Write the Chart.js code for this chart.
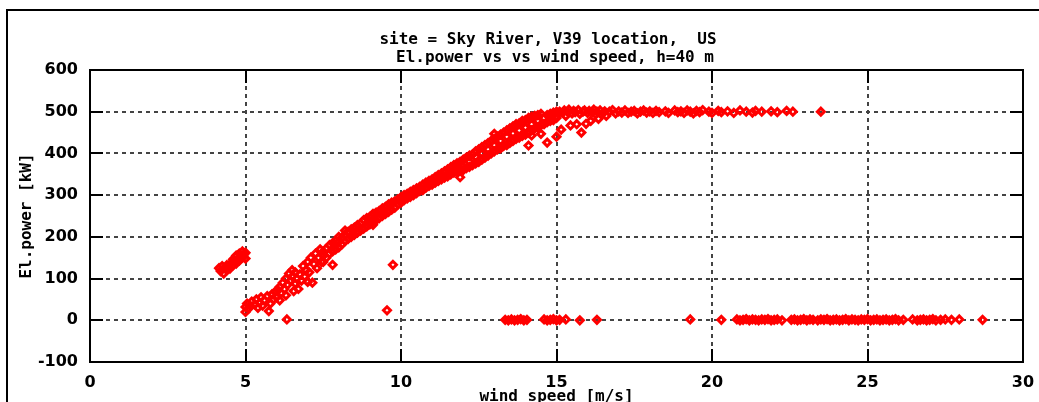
<!DOCTYPE html>
<html>
<head>
<meta charset="utf-8">
<script src="https://cdn.jsdelivr.net/npm/chart.js@4/dist/chart.umd.min.js"></script>
<style>
  html, body { margin: 0; padding: 0; background: #fff; }
  canvas { display: block; }
</style>
</head>
<body>
<canvas id="powerCurve" width="1039" height="402"></canvas>
<script>
// measured 10-min samples, [wind speed m/s, el. power kW]
var startupPts = [
  [4.15,125],[4.2,118],[4.25,130],[4.3,112],[4.35,125],[4.4,120],[4.4,132],[4.45,128],
  [4.5,124],[4.55,138],[4.6,132],[4.6,146],[4.65,140],[4.7,155],[4.7,136],[4.75,148],
  [4.8,160],[4.8,143],[4.85,152],[4.9,165],[4.9,150],[4.95,158],[5.0,162],[5.0,148]
];

var lowRampPts = [
  [5.0,20],[5.0,32],[5.05,40],[5.1,28],[5.15,35],[5.2,45],[5.3,38],[5.35,50],[5.4,30],
  [5.45,42],[5.5,55],[5.55,35],[5.6,48],[5.7,58],[5.75,22],[5.8,40],[5.85,62],[5.9,50],
  [5.95,68],[6.0,55],[6.05,72],[6.1,48],[6.1,80],[6.15,65],[6.2,90],[6.25,75],[6.3,100],
  [6.3,60],[6.35,85],[6.4,112],[6.45,95],[6.5,105],[6.5,120],[6.55,70],[6.6,88],[6.6,115],
  [6.65,100],[6.7,75],[6.75,110],[6.8,95],[6.85,130],[6.9,105],[6.95,120],[7.0,92],
  [7.0,140],[7.05,115],[7.1,150],[7.15,90],[7.2,135],[7.25,160],[7.3,125],[7.35,150],
  [7.4,170],[7.45,140]
];

var rampPts = [
  [7.5,140],[7.5,155],[7.5,165],[7.6,150],[7.6,172],[7.7,160],[7.7,180],[7.8,133],[7.8,165],
  [7.8,185],[7.9,170],[7.9,190],[8.0,175],[8.0,188],[8.0,200],[8.1,182],[8.1,198],[8.2,190],
  [8.2,205],[8.2,215],[8.3,195],[8.3,212],[8.4,200],[8.4,218],[8.5,205],[8.5,222],[8.6,210],
  [8.6,228],[8.7,215],[8.7,232],[8.8,220],[8.8,240],[8.9,225],[8.9,245],[9.0,230],[9.0,248],
  [9.1,229],[9.1,238],[9.1,255],[9.2,240],[9.2,258],[9.3,245],[9.3,262],[9.4,250],[9.4,268],
  [9.5,255],[9.5,272],[9.6,260],[9.6,278],[9.7,265],[9.7,282],[9.8,270],[9.8,285],[9.9,278],
  [9.9,290],[10.0,282],[10.0,295],[10.1,288],[10.1,300],[10.2,292],[10.2,303],[10.3,296],
  [10.3,308],[10.4,300],[10.4,312],[10.5,305],[10.5,316],[10.6,310],[10.6,320],[10.7,312],
  [10.7,325],[10.8,318],[10.8,330],[10.9,322],[10.9,334],[11.0,325],[11.0,338],[11.1,330],
  [11.1,343],[11.2,334],[11.2,348],[11.3,338],[11.3,352],[11.4,342],[11.4,357],[11.5,345],
  [11.5,362],[11.6,350],[11.6,367],[11.7,354],[11.7,372],[11.8,358],[11.8,376],[11.9,343],
  [11.9,362],[11.9,380],[12.0,360],[12.0,368],[12.0,385],[12.1,365],[12.1,390],[12.2,368],
  [12.2,380],[12.2,395],[12.3,372],[12.3,398],[12.4,376],[12.4,392],[12.4,405],[12.5,380],
  [12.5,410],[12.6,385],[12.6,400],[12.6,415],[12.7,390],[12.7,420],[12.8,395],[12.8,410],
  [12.8,425],[12.9,400],[12.9,430],[13.0,405],[13.0,420],[13.0,435],[13.0,447],[13.1,410],
  [13.1,440],[13.2,412],[13.2,430],[13.2,445],[13.3,418],[13.3,450],[13.4,420],[13.4,440],
  [13.4,455],[13.5,425],[13.5,460],[13.6,430],[13.6,448],[13.6,465],[13.7,435],[13.7,470],
  [13.8,438],[13.8,455],[13.8,472],[13.9,442],[13.9,478],[14.0,445],[14.0,462],[14.0,480],
  [14.1,419],[14.1,450],[14.1,485],[14.2,443],[14.2,455],[14.2,470],[14.2,488],[14.3,460],
  [14.3,490],[14.4,462],[14.4,478],[14.4,492],[14.5,447],[14.5,468],[14.5,495],[14.6,470],
  [14.6,485],[14.7,426],[14.7,475],[14.7,492],[14.8,478],[14.8,495],[14.9,480],[14.9,498],
  [15.0,440],[15.0,485],[15.0,500]
];

var ratedPts = [
  [15.05,495],[15.1,500],[15.15,457],[15.2,498],[15.25,503],[15.3,490],[15.35,500],[15.4,505],
  [15.45,467],[15.5,496],[15.55,502],[15.6,499],[15.65,470],[15.7,504],[15.75,495],[15.8,450],
  [15.85,500],[15.9,503],[15.95,471],[16.0,497],[16.05,502],[16.1,478],[16.15,499],[16.2,505],
  [16.25,494],[16.3,500],[16.35,483],[16.4,503],[16.5,497],[16.55,501],[16.6,490],[16.7,500],
  [16.8,504],[16.9,496],[17.0,501],[17.1,498],[17.2,503],[17.3,497],[17.4,500],[17.5,502],
  [17.6,496],[17.7,500],[17.8,503],[17.9,498],[18.0,501],[18.1,497],[18.2,502],[18.3,499],
  [18.5,501],[18.6,497],[18.8,503],[18.9,499],[19.0,501],[19.1,497],[19.2,503],[19.3,500],
  [19.4,496],[19.5,502],[19.6,499],[19.7,504],[19.9,500],[20.0,497],[20.2,502],[20.3,499],
  [20.5,501],[20.7,497],[20.9,503],[21.1,500],[21.3,498],[21.4,502],[21.6,500],[21.9,501],
  [22.1,499],[22.4,502],[22.6,500],[23.5,500]
];

var stoppedPts = [
  [6.33,2],[9.55,24],[9.74,133],
  [13.35,1],[13.45,0],[13.55,2],[13.65,0],[13.75,1],[13.85,3],[13.95,0],[14.05,1],
  [14.6,2],[14.7,0],[14.8,1],[14.9,3],[15.0,0],[15.1,1],[15.3,2],[15.75,0],[16.3,1],
  [19.3,2],[20.3,1],[20.8,2],[20.9,0],[21.0,1],[21.1,3],[21.2,0],[21.3,2],[21.4,1],
  [21.5,0],[21.6,2],[21.7,1],[21.8,3],[21.9,0],[22.0,1],[22.1,2],[22.25,0],[22.55,1],
  [22.65,2],[22.75,0],[22.85,1],[22.95,3],[23.05,0],[23.15,2],[23.25,1],[23.4,0],[23.5,2],
  [23.6,1],[23.7,3],[23.8,0],[23.9,1],[24.0,2],[24.1,0],[24.2,1],[24.3,3],[24.4,0],[24.5,2],
  [24.6,1],[24.7,0],[24.8,2],[24.9,1],[25.0,3],[25.1,0],[25.2,1],[25.3,2],[25.4,0],[25.5,1],
  [25.6,2],[25.7,0],[25.8,1],[25.9,3],[26.0,0],[26.15,1],[26.45,2],[26.6,0],[26.7,1],
  [26.8,2],[26.9,0],[27.0,1],[27.1,3],[27.2,0],[27.35,1],[27.5,2],[27.7,1],[27.95,2],[28.7,1]
];

var xTickValues = [0, 5, 10, 15, 20, 25, 30];
var yTickValues = [-100, 0, 100, 200, 300, 400, 500, 600];
var titleLines = ['site = Sky River, V39 location,  US', 'El.power vs vs wind speed, h=40 m'];

var monoFont = 'DejaVu Sans Mono';

var allPts = startupPts.concat(lowRampPts, rampPts, ratedPts, stoppedPts).map(function (p) {
  return { x: p[0], y: p[1] };
});

// gnuplot style frame: outer border, plot box with inward ticks, two line title
var gnuFrame = {
  id: 'gnuFrame',
  afterDraw: function (chart) {
    var ctx = chart.ctx, a = chart.chartArea, sx = chart.scales.x, sy = chart.scales.y;
    ctx.save();
    ctx.strokeStyle = '#000';
    ctx.lineWidth = 2;
    ctx.beginPath();
    ctx.moveTo(7, chart.height + 2);
    ctx.lineTo(7, 10);
    ctx.lineTo(chart.width + 2, 10);
    ctx.stroke();

    ctx.strokeRect(a.left, a.top, a.right - a.left, a.bottom - a.top);

    var tl = 13;
    ctx.beginPath();
    xTickValues.forEach(function (v) {
      var px = Math.round(sx.getPixelForValue(v));
      ctx.moveTo(px, a.bottom); ctx.lineTo(px, a.bottom - tl);
      ctx.moveTo(px, a.top); ctx.lineTo(px, a.top + tl);
    });
    yTickValues.forEach(function (v) {
      var py = Math.round(sy.getPixelForValue(v));
      ctx.moveTo(a.left, py); ctx.lineTo(a.left + tl, py);
      ctx.moveTo(a.right, py); ctx.lineTo(a.right - tl, py);
    });
    ctx.stroke();

    ctx.fillStyle = '#000';
    ctx.font = 'bold 16px "' + monoFont + '"';
    ctx.textAlign = 'center';
    ctx.textBaseline = 'middle';
    ctx.fillText(titleLines[0], 548, 40);
    ctx.fillText(titleLines[1], 555, 58);
    ctx.restore();
  }
};

new Chart(document.getElementById('powerCurve'), {
  type: 'scatter',
  data: {
    datasets: [{
      data: allPts,
      pointStyle: 'rectRot',
      pointRadius: 3.5,
      pointBorderWidth: 3,
      borderColor: '#ff0000',
      backgroundColor: 'rgba(255,0,0,0)'
    }]
  },
  options: {
    responsive: false,
    animation: false,
    layout: { padding: { top: 70, right: 16, left: 0, bottom: 0 } },
    plugins: {
      legend: { display: false },
      tooltip: { enabled: false },
      title: { display: false }
    },
    scales: {
      x: {
        type: 'linear',
        position: 'bottom',
        min: 0,
        max: 30,
        afterBuildTicks: function (s) { s.ticks = xTickValues.map(function (v) { return { value: v }; }); },
        afterFit: function (s) { s.height = 40; },
        // invisible tick length keeps the labels low without widening the right padding
        grid: { color: '#444', lineWidth: 2, drawTicks: true, tickLength: 11, tickColor: 'rgba(0,0,0,0)' },
        border: { display: false, dash: [4, 4] },
        ticks: {
          padding: 0,
          color: '#000',
          maxRotation: 0,
          font: { family: 'DejaVu Sans', size: 16, weight: 'bold' }
        },
        title: {
          display: true,
          text: 'wind speed [m/s]',
          color: '#000',
          font: { family: monoFont, size: 16, weight: 'bold', lineHeight: 0.625 },
          padding: { top: 0, bottom: 0 }
        }
      },
      y: {
        type: 'linear',
        min: -100,
        max: 600,
        afterBuildTicks: function (s) { s.ticks = yTickValues.map(function (v) { return { value: v }; }); },
        afterFit: function (s) { s.width = 90; },
        grid: { color: '#444', lineWidth: 2, drawTicks: false },
        border: { display: false, dash: [4, 4] },
        ticks: {
          padding: 12,
          color: '#000',
          font: { family: 'DejaVu Sans', size: 16, weight: 'bold' }
        },
        title: {
          display: true,
          text: 'El.power [kW]',
          color: '#000',
          font: { family: monoFont, size: 16, weight: 'bold', lineHeight: 1 },
          padding: { top: 19, bottom: 0 }
        }
      }
    }
  },
  plugins: [gnuFrame]
});
</script>
</body>
</html>
